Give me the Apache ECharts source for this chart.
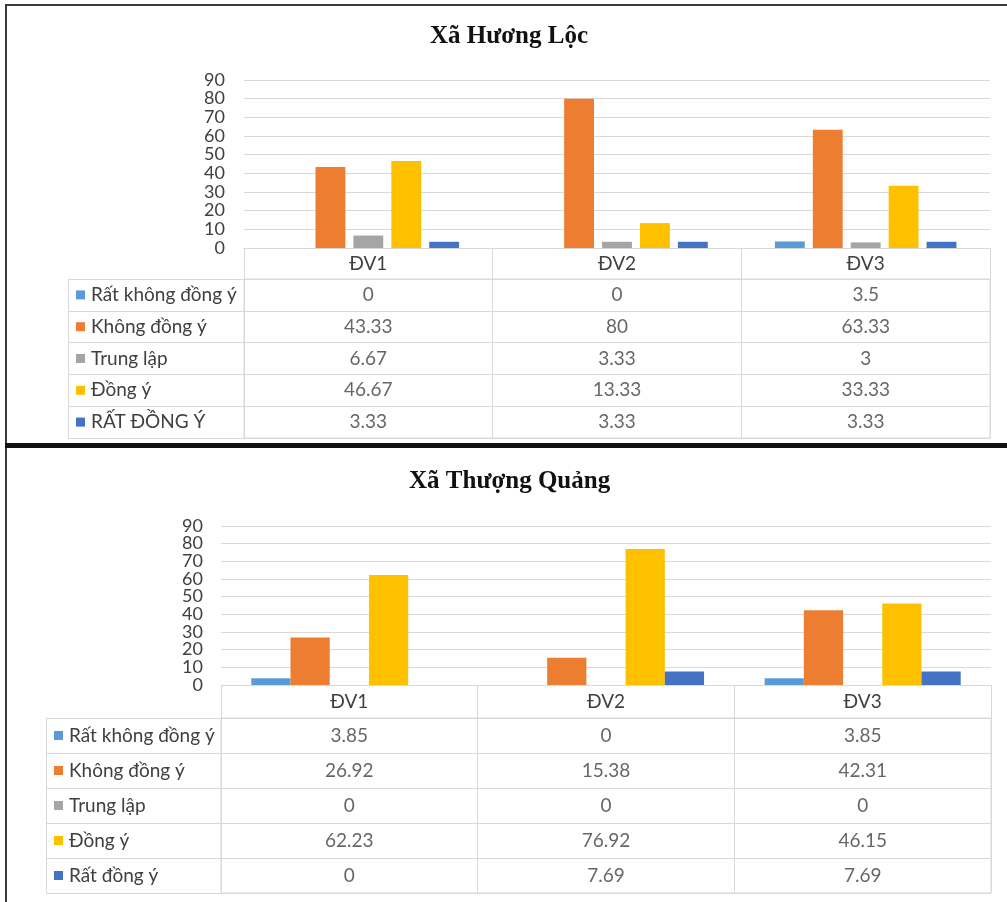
<!DOCTYPE html>
<html>
<head>
<meta charset="utf-8">
<script src="https://cdn.jsdelivr.net/npm/echarts@6/dist/echarts.min.js"></script>
<style>
html,body{margin:0;padding:0;background:#fff;}
#chart{width:1007px;height:902px;}
</style>
</head>
<body>
<div id="chart"></div>
<script>
// ---- Data ----
const categories = ['ĐV1', 'ĐV2', 'ĐV3'];
const yTickLabels = ['0', '10', '20', '30', '40', '50', '60', '70', '80', '90'];
const yTickMax = 90;
const yTickStep = 10;

// Xã Hương Lộc
const titleHL = 'Xã Hương Lộc';
const rowsHL = ['Rất không đồng ý', 'Không đồng ý', 'Trung lập', 'Đồng ý', 'RẤT ĐỒNG Ý'];
const hlRatKhongDongY = [0, 0, 3.5];
const hlKhongDongY = [43.33, 80, 63.33];
const hlTrungLap = [6.67, 3.33, 3];
const hlDongY = [46.67, 13.33, 33.33];
const hlRatDongY = [3.33, 3.33, 3.33];

// Xã Thượng Quảng
const titleTQ = 'Xã Thượng Quảng';
const rowsTQ = ['Rất không đồng ý', 'Không đồng ý', 'Trung lập', 'Đồng ý', 'Rất đồng ý'];
const tqRatKhongDongY = [3.85, 0, 3.85];
const tqKhongDongY = [26.92, 15.38, 42.31];
const tqTrungLap = [0, 0, 0];
const tqDongY = [62.23, 76.92, 46.15];
const tqRatDongY = [0, 7.69, 7.69];

// ---- Styles ----
const colors = ['#5B9BD5', '#ED7D31', '#A5A5A5', '#FFC000', '#4472C4'];
const FONT = 'Lato';
const TXT = '#404040';
const LINE = '#d9d9d9';
const TFS = 19;

const chart = echarts.init(document.getElementById('chart'), null, {renderer: 'canvas'});

const rich = {t: {fontSize: TFS, fontFamily: FONT, color: TXT, padding: [0, 0, 0, 6]}};
colors.forEach((c, i) => { rich['s' + i] = {width: 9, height: 9, backgroundColor: c}; });

function buildPanel(p, rows, seriesValues, layout, barGap, barCatGap) {
  const gBar = p * 2, gTab = p * 2 + 1;
  const grids = [
    {left: layout.left, right: layout.right, top: layout.barTop, height: layout.barH},
    {left: layout.left, right: layout.right, top: layout.tabTop, height: layout.tabH,
     show: true, borderColor: LINE, borderWidth: 1, backgroundColor: 'transparent'}
  ];
  const xAxes = [
    {type: 'category', gridIndex: gBar, data: categories,
     axisLabel: {show: false}, axisTick: {show: false},
     axisLine: {show: true, lineStyle: {color: LINE, width: 1}}},
    {type: 'category', gridIndex: gTab, data: categories, position: 'top',
     axisLabel: {show: true, interval: 0, margin: layout.headH / 2, verticalAlign: 'middle',
                 fontSize: TFS, fontFamily: FONT, color: TXT},
     axisTick: {show: true, interval: 0, length: layout.headH, lineStyle: {color: LINE}},
     axisLine: {show: true, lineStyle: {color: LINE}},
     splitLine: {show: true, interval: 0, lineStyle: {color: LINE}}}
  ];
  const yAxes = [
    // value axis used by the bars (grid lines)
    {type: 'value', gridIndex: gBar, min: 0, max: yTickMax, interval: yTickStep, position: 'left',
     axisLine: {show: false}, axisTick: {show: false}, axisLabel: {show: false},
     splitLine: {show: true, lineStyle: {color: LINE}}},
    // tick label axis (same positions as value ticks)
    {type: 'category', gridIndex: gBar, data: yTickLabels, boundaryGap: false, position: 'left',
     axisLine: {show: false}, axisTick: {show: false}, splitLine: {show: false},
     axisLabel: {show: true, interval: 0, fontSize: 18, fontFamily: FONT, color: TXT,
                 margin: layout.yLabelMargin}},
    // table rows
    {type: 'category', gridIndex: gTab, data: rows, inverse: true, position: 'left',
     axisLine: {show: true, lineStyle: {color: LINE}},
     axisTick: {show: true, interval: 0, length: layout.labelColW, lineStyle: {color: LINE}},
     axisLabel: {show: true, interval: 0, align: 'left', margin: layout.labelColW - 8,
                 formatter: (v, i) => '{s' + i + '|}{t|' + v + '}', rich: rich},
     splitLine: {show: true, interval: 0, lineStyle: {color: LINE}}},
    // table outer left border
    {type: 'category', gridIndex: gTab, data: rows, inverse: true, position: 'left',
     offset: layout.labelColW,
     axisLine: {show: true, lineStyle: {color: LINE}},
     axisTick: {show: false}, axisLabel: {show: false}}
  ];
  const xBase = p * 2, yBase = p * 4;
  const series = seriesValues.map((vals, i) => ({
    type: 'bar', name: rows[i], xAxisIndex: xBase, yAxisIndex: yBase,
    data: vals, itemStyle: {color: colors[i]},
    barGap: barGap, barCategoryGap: barCatGap, silent: true
  }));
  const cells = [];
  seriesValues.forEach((vals, r) => vals.forEach((v, c) => cells.push([c, r, v])));
  series.push({
    type: 'scatter', xAxisIndex: xBase + 1, yAxisIndex: yBase + 2,
    data: cells, symbolSize: 1, itemStyle: {color: 'transparent'}, silent: true,
    label: {show: true, position: 'inside', formatter: (pp) => String(pp.value[2]),
            fontSize: TFS, fontFamily: FONT, color: TXT}
  });
  return {grids, xAxes, yAxes, series};
}

const pHL = buildPanel(0, rowsHL,
  [hlRatKhongDongY, hlKhongDongY, hlTrungLap, hlDongY, hlRatDongY],
  {left: 244, right: 17, barTop: 80, barH: 168, tabTop: 279, tabH: 159, headH: 31, labelColW: 176, yLabelMargin: 19},
  '27%', '27%');
const pTQ = buildPanel(1, rowsTQ,
  [tqRatKhongDongY, tqKhongDongY, tqTrungLap, tqDongY, tqRatDongY],
  {left: 221, right: 16, barTop: 526, barH: 159, tabTop: 718, tabH: 175, headH: 33, labelColW: 175, yLabelMargin: 18},
  '0%', '23.6%');

const titleStyle = {fontFamily: 'Liberation Serif', fontWeight: 'bold', fontSize: 25, color: '#111'};

const option = {
  backgroundColor: '#fff',
  animation: false,
  title: [
    {text: titleHL, left: 430, top: 24, padding: 0, textStyle: titleStyle},
    {text: titleTQ, left: 409, top: 469, padding: 0, textStyle: titleStyle}
  ],
  grid: pHL.grids.concat(pTQ.grids),
  xAxis: pHL.xAxes.concat(pTQ.xAxes),
  yAxis: pHL.yAxes.concat(pTQ.yAxes),
  series: pHL.series.concat(pTQ.series),
  graphic: [
    {type: 'rect', shape: {x: 5, y: 4, width: 1002, height: 2}, style: {fill: '#3a3a3a'}, silent: true},
    {type: 'rect', shape: {x: 5, y: 4, width: 2, height: 440}, style: {fill: '#3a3a3a'}, silent: true},
    {type: 'rect', shape: {x: 5, y: 443, width: 1002, height: 5}, style: {fill: '#111'}, silent: true},
    {type: 'rect', shape: {x: 5, y: 448, width: 2, height: 454}, style: {fill: '#3a3a3a'}, silent: true}
  ]
};
chart.setOption(option);
</script>
</body>
</html>
